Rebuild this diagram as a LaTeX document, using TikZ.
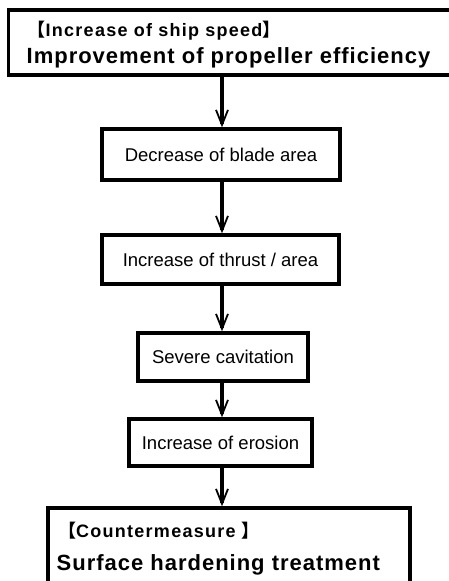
\documentclass[tikz,border=0pt]{standalone}
\usepackage{fontspec}
\setmainfont{Liberation Sans}
\newfontfamily\cjk{Noto Sans CJK JP}
\usetikzlibrary{arrows.meta}
\tikzset{
  box/.style={draw=black, line width=3.4pt, inner sep=0pt, fill=white},
  smallbox/.style={box, font=\fontsize{18.5}{20}\selectfont},
  headtxt/.style={inner sep=0pt, anchor=base west, font=\fontsize{18}{20}\selectfont\bfseries\addfontfeature{LetterSpace=7}},
  bigtxt/.style={inner sep=0pt, anchor=base west, font=\fontsize{22}{24}\selectfont\bfseries\addfontfeature{LetterSpace=4.5}},
  arr/.style={line width=3.4pt, -{Straight Barb[length=15pt,width=12pt,line width=1.8pt]}}
}
\begin{document}
\begin{tikzpicture}[x=1pt,y=-1pt]
\useasboundingbox (0,0) rectangle (448,581);
\node[box, minimum width=446pt, minimum height=65pt] (top) at (231.5,42.5) {};
\node[headtxt] (t1) at (27.5,36.5) {{\cjk\bfseries 【}Increase of ship speed{\cjk\bfseries 】}};
\node[bigtxt] (t2) at (26.5,63) {Improvement of propeller efficiency};
\node[smallbox, minimum width=238pt, minimum height=51pt] (b1) at (221,154.5) {Decrease of blade area};
\node[smallbox, minimum width=237pt, minimum height=49pt] (b2) at (220.5,259.5) {Increase of thrust / area};
\node[smallbox, minimum width=170pt, minimum height=48pt] (b3) at (223,357) {Severe cavitation};
\node[smallbox, minimum width=183pt, minimum height=47pt] (b4) at (220.5,442.5) {Increase of erosion};
\node[box, minimum width=362pt, minimum height=90pt] (bot) at (229,553) {};
\node[headtxt] (u1) at (58,537) {{\cjk\bfseries 【}Countermeasure {\cjk\bfseries 】}};
\node[bigtxt] (u2) at (56.5,570) {Surface hardening treatment};
\coordinate (ax) at (222,0);
\draw[arr] (top.south -| ax) -- (b1.north -| ax);
\draw[arr] (b1.south -| ax) -- (b2.north -| ax);
\draw[arr] (b2.south -| ax) -- (b3.north -| ax);
\draw[arr] (b3.south -| ax) -- (b4.north -| ax);
\draw[arr] (b4.south -| ax) -- (bot.north -| ax);
\end{tikzpicture}
\end{document}
